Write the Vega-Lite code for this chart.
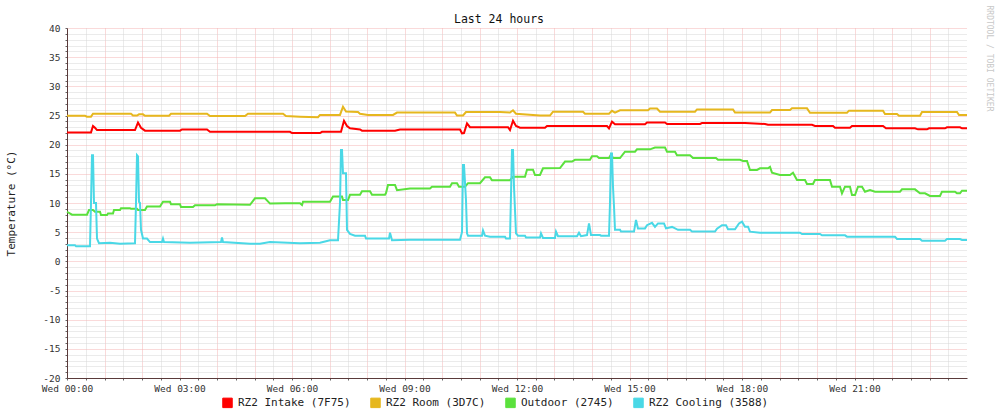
{
"$schema": "https://vega.github.io/schema/vega-lite/v6.json",
"width": 900, "height": 350,
"autosize": {"type": "none"},
"padding": {"left": 67, "top": 28, "right": 30, "bottom": 40},
"background": "white",
"config": {"view": {"stroke": null}, "font": "DejaVu Sans Mono"},
"title": {"text": "Last 24 hours", "font": "DejaVu Sans Mono", "fontSize": 11.5, "fontWeight": "normal", "color": "#111", "anchor": "middle", "frame": "group", "dx": -18, "dy": 24, "offset": 4},
"datasets": {
"intake": [{"m":0,"v":22.1},{"m":38.4,"v":22.1},{"m":41.6,"v":23.2},{"m":44.8,"v":22.9},{"m":48,"v":22.5},{"m":108.8,"v":22.5},{"m":113.6,"v":23.8},{"m":118.4,"v":22.9},{"m":124.8,"v":22.4},{"m":180.8,"v":22.4},{"m":184,"v":22.6},{"m":224,"v":22.6},{"m":228.8,"v":22.2},{"m":356.8,"v":22.2},{"m":360,"v":22.0},{"m":404.8,"v":22.0},{"m":408,"v":22.2},{"m":438.4,"v":22.2},{"m":443.2,"v":24.1},{"m":448,"v":23.2},{"m":452.8,"v":22.8},{"m":468.8,"v":22.6},{"m":472,"v":22.4},{"m":524.8,"v":22.4},{"m":532.8,"v":22.6},{"m":628.8,"v":22.6},{"m":632,"v":21.95},{"m":635.2,"v":22.0},{"m":640,"v":23.65},{"m":644.8,"v":23.0},{"m":705.6,"v":23.0},{"m":708.8,"v":22.5},{"m":713.6,"v":24.1},{"m":718.4,"v":23.2},{"m":724.8,"v":22.9},{"m":764.8,"v":22.9},{"m":768,"v":23.2},{"m":864,"v":23.2},{"m":867.2,"v":22.8},{"m":872,"v":23.95},{"m":876.8,"v":23.5},{"m":924.8,"v":23.5},{"m":928,"v":23.8},{"m":956.8,"v":23.8},{"m":960,"v":23.55},{"m":1012.8,"v":23.55},{"m":1016,"v":23.7},{"m":1084.8,"v":23.7},{"m":1116.8,"v":23.55},{"m":1121.6,"v":23.4},{"m":1192,"v":23.4},{"m":1196.8,"v":23.2},{"m":1225.6,"v":23.2},{"m":1228.8,"v":22.9},{"m":1252.8,"v":22.9},{"m":1256,"v":23.2},{"m":1305.6,"v":23.2},{"m":1310.4,"v":22.8},{"m":1356.8,"v":22.8},{"m":1361.6,"v":22.63},{"m":1376,"v":22.63},{"m":1379.2,"v":22.8},{"m":1404.8,"v":22.8},{"m":1408,"v":22.97},{"m":1428.8,"v":22.97},{"m":1432,"v":22.8},{"m":1440,"v":22.8}],
"room": [{"m":0,"v":24.95},{"m":28.8,"v":24.95},{"m":32,"v":24.8},{"m":38.4,"v":24.8},{"m":41.6,"v":25.3},{"m":102.4,"v":25.3},{"m":105.6,"v":25.0},{"m":112,"v":25.0},{"m":115.2,"v":25.2},{"m":121.6,"v":25.2},{"m":124.8,"v":24.95},{"m":163.2,"v":24.95},{"m":166.4,"v":25.3},{"m":224,"v":25.3},{"m":228.8,"v":24.9},{"m":284.8,"v":24.9},{"m":289.6,"v":25.3},{"m":345.6,"v":25.3},{"m":350.4,"v":24.9},{"m":372.8,"v":24.8},{"m":401.6,"v":24.7},{"m":404.8,"v":25.1},{"m":436.8,"v":25.1},{"m":441.6,"v":26.5},{"m":446.4,"v":25.7},{"m":465.6,"v":25.6},{"m":468.8,"v":25.3},{"m":481.6,"v":25.1},{"m":521.6,"v":25.1},{"m":528,"v":25.5},{"m":620.8,"v":25.5},{"m":624,"v":25.0},{"m":633.6,"v":25.0},{"m":638.4,"v":25.6},{"m":692.8,"v":25.6},{"m":708.8,"v":25.5},{"m":713.6,"v":25.9},{"m":718.4,"v":25.3},{"m":756.8,"v":25.0},{"m":772.8,"v":25.0},{"m":777.6,"v":25.65},{"m":825.6,"v":25.65},{"m":828.8,"v":25.3},{"m":867.2,"v":25.3},{"m":872,"v":25.8},{"m":876.8,"v":25.5},{"m":884.8,"v":25.9},{"m":929.6,"v":25.9},{"m":932.8,"v":26.2},{"m":944,"v":26.2},{"m":948.8,"v":25.65},{"m":1004.8,"v":25.65},{"m":1008,"v":26.05},{"m":1065.6,"v":26.05},{"m":1068.8,"v":25.5},{"m":1124.8,"v":25.5},{"m":1128,"v":25.94},{"m":1156.8,"v":25.94},{"m":1160,"v":26.23},{"m":1184,"v":26.23},{"m":1188.8,"v":25.48},{"m":1248,"v":25.48},{"m":1251.2,"v":25.83},{"m":1305.6,"v":25.83},{"m":1308.8,"v":25.26},{"m":1328,"v":25.26},{"m":1331.2,"v":24.97},{"m":1364.8,"v":24.97},{"m":1368,"v":25.6},{"m":1424,"v":25.6},{"m":1427.2,"v":25.09},{"m":1440,"v":25.09}],
"outdoor": [{"m":0,"v":8.5},{"m":8,"v":8.0},{"m":32,"v":8.0},{"m":35.2,"v":8.8},{"m":41.6,"v":8.8},{"m":44.8,"v":8.5},{"m":52.8,"v":8.5},{"m":54.4,"v":7.95},{"m":64,"v":7.95},{"m":65.6,"v":8.2},{"m":73.6,"v":8.2},{"m":75.2,"v":8.8},{"m":84.8,"v":8.8},{"m":86.4,"v":9.1},{"m":100.8,"v":9.1},{"m":102.4,"v":9.0},{"m":112,"v":9.0},{"m":113.6,"v":8.8},{"m":124.8,"v":8.8},{"m":128,"v":9.4},{"m":148.8,"v":9.4},{"m":153.6,"v":10.2},{"m":164.8,"v":10.2},{"m":166.4,"v":9.8},{"m":180.8,"v":9.8},{"m":182.4,"v":9.3},{"m":201.6,"v":9.3},{"m":204.8,"v":9.6},{"m":236.8,"v":9.6},{"m":240,"v":9.8},{"m":292.8,"v":9.7},{"m":300.8,"v":10.8},{"m":316.8,"v":10.8},{"m":324.8,"v":9.9},{"m":348.8,"v":9.95},{"m":372.8,"v":9.95},{"m":376,"v":9.66},{"m":377.6,"v":10.2},{"m":420.8,"v":10.2},{"m":425.6,"v":11.1},{"m":440,"v":11.1},{"m":441.6,"v":10.5},{"m":449.6,"v":10.5},{"m":452.8,"v":11.4},{"m":468.8,"v":11.4},{"m":472,"v":12.0},{"m":484.8,"v":12.0},{"m":488,"v":11.4},{"m":508.8,"v":11.4},{"m":510.4,"v":11.7},{"m":513.6,"v":13.1},{"m":524.8,"v":13.1},{"m":528,"v":12.2},{"m":548.8,"v":12.5},{"m":580.8,"v":12.5},{"m":584,"v":12.8},{"m":612.8,"v":12.8},{"m":616,"v":13.4},{"m":624,"v":13.4},{"m":627.2,"v":12.8},{"m":636.8,"v":12.8},{"m":641.6,"v":13.4},{"m":660.8,"v":13.4},{"m":668.8,"v":14.4},{"m":676.8,"v":14.4},{"m":680,"v":13.9},{"m":708.8,"v":13.9},{"m":713.6,"v":14.5},{"m":732.8,"v":14.5},{"m":736,"v":15.7},{"m":745.6,"v":15.7},{"m":748.8,"v":14.8},{"m":756.8,"v":14.8},{"m":761.6,"v":15.95},{"m":788.8,"v":16.0},{"m":796.8,"v":17.1},{"m":808,"v":17.1},{"m":812.8,"v":17.4},{"m":836.8,"v":17.4},{"m":840,"v":18.0},{"m":848,"v":18.0},{"m":851.2,"v":17.7},{"m":867.2,"v":17.7},{"m":870.4,"v":18.3},{"m":873.6,"v":17.7},{"m":884.8,"v":17.7},{"m":892.8,"v":18.8},{"m":908.8,"v":18.8},{"m":912,"v":19.2},{"m":932.8,"v":19.2},{"m":940.8,"v":19.5},{"m":956.8,"v":19.5},{"m":960,"v":18.8},{"m":972.8,"v":18.8},{"m":976,"v":18.2},{"m":996.8,"v":18.2},{"m":1001.6,"v":17.7},{"m":1038.4,"v":17.7},{"m":1041.6,"v":17.4},{"m":1076.8,"v":17.4},{"m":1081.6,"v":17.2},{"m":1088,"v":17.2},{"m":1092.8,"v":15.66},{"m":1104,"v":15.66},{"m":1108.8,"v":15.94},{"m":1121.6,"v":15.94},{"m":1124.8,"v":16.2},{"m":1128,"v":15.2},{"m":1140.8,"v":14.8},{"m":1156.8,"v":14.8},{"m":1161.6,"v":15.2},{"m":1168,"v":13.94},{"m":1180.8,"v":13.94},{"m":1184,"v":13.26},{"m":1193.6,"v":13.26},{"m":1196.8,"v":13.94},{"m":1220.8,"v":13.94},{"m":1224,"v":12.8},{"m":1236.8,"v":12.8},{"m":1240,"v":11.66},{"m":1244.8,"v":12.8},{"m":1252.8,"v":12.8},{"m":1256,"v":11.37},{"m":1260.8,"v":11.37},{"m":1265.6,"v":12.8},{"m":1272,"v":12.8},{"m":1276.8,"v":11.94},{"m":1284.8,"v":12.23},{"m":1292.8,"v":11.94},{"m":1332.8,"v":11.94},{"m":1336,"v":12.34},{"m":1356.8,"v":12.34},{"m":1364.8,"v":11.66},{"m":1372.8,"v":11.66},{"m":1380.8,"v":11.2},{"m":1396.8,"v":11.2},{"m":1400,"v":11.94},{"m":1420.8,"v":11.94},{"m":1424,"v":11.66},{"m":1428.8,"v":11.66},{"m":1432,"v":12.1},{"m":1440,"v":12.1}],
"cooling": [{"m":0,"v":2.74},{"m":12.8,"v":2.74},{"m":14.4,"v":2.6},{"m":36.8,"v":2.6},{"m":38.4,"v":10.0},{"m":40,"v":18.2},{"m":41.6,"v":18.2},{"m":43.2,"v":10.0},{"m":46.4,"v":10.0},{"m":48,"v":3.9},{"m":51.2,"v":3.1},{"m":68.8,"v":3.2},{"m":84.8,"v":3.0},{"m":108.8,"v":3.1},{"m":110.4,"v":10.0},{"m":112,"v":18.2},{"m":113.6,"v":18.0},{"m":115.2,"v":10.2},{"m":116.8,"v":10.0},{"m":118.4,"v":5.4},{"m":121.6,"v":3.9},{"m":128,"v":3.9},{"m":132.8,"v":3.3},{"m":152,"v":3.3},{"m":153.6,"v":3.9},{"m":155.2,"v":3.3},{"m":196.8,"v":3.2},{"m":246.4,"v":3.3},{"m":248,"v":4.1},{"m":249.6,"v":3.3},{"m":292.8,"v":3.0},{"m":308.8,"v":3.0},{"m":324.8,"v":3.3},{"m":372.8,"v":3.1},{"m":404.8,"v":3.2},{"m":420.8,"v":3.6},{"m":433.6,"v":3.6},{"m":436.8,"v":10.0},{"m":438.4,"v":19.1},{"m":440,"v":19.1},{"m":441.6,"v":15.1},{"m":446.4,"v":15.1},{"m":448,"v":5.4},{"m":452.8,"v":4.7},{"m":460.8,"v":4.4},{"m":476.8,"v":4.4},{"m":478.4,"v":3.9},{"m":515.2,"v":3.9},{"m":516.8,"v":4.9},{"m":520,"v":3.6},{"m":548.8,"v":3.7},{"m":628.8,"v":3.7},{"m":632,"v":5.0},{"m":633.6,"v":16.5},{"m":635.2,"v":16.5},{"m":638.4,"v":10.5},{"m":640,"v":4.8},{"m":641.6,"v":4.4},{"m":664,"v":4.4},{"m":665.6,"v":5.3},{"m":668.8,"v":4.4},{"m":676.8,"v":4.2},{"m":700.8,"v":4.2},{"m":702.4,"v":3.9},{"m":708.8,"v":3.9},{"m":710.4,"v":11.4},{"m":712,"v":19.1},{"m":713.6,"v":19.1},{"m":715.2,"v":12.8},{"m":718.4,"v":4.8},{"m":721.6,"v":4.4},{"m":732.8,"v":4.4},{"m":734.4,"v":4.1},{"m":756.8,"v":4.1},{"m":758.4,"v":4.8},{"m":761.6,"v":4.0},{"m":780.8,"v":4.0},{"m":782.4,"v":5.1},{"m":785.6,"v":4.3},{"m":816,"v":4.3},{"m":819.2,"v":4.9},{"m":822.4,"v":4.3},{"m":832,"v":4.5},{"m":835.2,"v":6.5},{"m":838.4,"v":4.5},{"m":852.8,"v":4.5},{"m":854.4,"v":4.4},{"m":867.2,"v":4.4},{"m":868.8,"v":10.0},{"m":870.4,"v":18.5},{"m":872,"v":18.5},{"m":873.6,"v":12.8},{"m":875.2,"v":9.4},{"m":876.8,"v":5.4},{"m":884.8,"v":5.4},{"m":886.4,"v":5.1},{"m":907.2,"v":5.1},{"m":910.4,"v":7.1},{"m":913.6,"v":5.65},{"m":924.8,"v":5.65},{"m":928,"v":6.2},{"m":936,"v":6.6},{"m":940.8,"v":5.9},{"m":945.6,"v":6.5},{"m":955.2,"v":6.5},{"m":958.4,"v":5.65},{"m":968,"v":5.9},{"m":977.6,"v":5.4},{"m":996.8,"v":5.4},{"m":1000,"v":5.1},{"m":1036.8,"v":5.1},{"m":1040,"v":5.6},{"m":1048,"v":6.2},{"m":1054.4,"v":6.2},{"m":1057.6,"v":5.5},{"m":1068.8,"v":5.5},{"m":1075.2,"v":6.5},{"m":1080,"v":6.8},{"m":1084.8,"v":5.94},{"m":1089.6,"v":5.94},{"m":1092.8,"v":5.09},{"m":1108.8,"v":4.91},{"m":1172.8,"v":4.91},{"m":1176,"v":4.69},{"m":1204.8,"v":4.69},{"m":1208,"v":4.46},{"m":1244.8,"v":4.46},{"m":1248,"v":4.23},{"m":1324.8,"v":4.23},{"m":1328,"v":3.83},{"m":1364.8,"v":3.83},{"m":1368,"v":3.54},{"m":1404.8,"v":3.54},{"m":1408,"v":3.83},{"m":1428.8,"v":3.83},{"m":1432,"v":3.66},{"m":1440,"v":3.66}]
},
"encoding": {
  "x": {"field": "m", "type": "quantitative",
    "scale": {"domain": [0, 1440], "nice": false, "zero": false},
    "axis": {"title": null,
      "values": [0,30,60,90,120,150,180,210,240,270,300,330,360,390,420,450,480,510,540,570,600,630,660,690,720,750,780,810,840,870,900,930,960,990,1020,1050,1080,1110,1140,1170,1200,1230,1260,1290,1320,1350,1380,1410],
      "labelExpr": "datum.value % 180 === 0 ? 'Wed ' + (datum.value < 600 ? '0' : '') + (datum.value / 60) + ':00' : ''",
      "gridColor": {"condition": {"test": "datum.value % 60 === 0", "value": "#f4b4b4"}, "value": "#d6d6d6"},
      "gridDash": [1, 1], "gridWidth": 1, "gridOpacity": 1,
      "tickSize": 2, "tickColor": "#666", "labelPadding": 3,
      "labelFont": "DejaVu Sans Mono", "labelFontSize": 9.5, "labelColor": "#333",
      "labelOverlap": false, "labelBound": false, "labelFlush": false,
      "domainColor": "#5a3a3a", "domainWidth": 1}
  }
},
"layer": [
  {
    "encoding": {
      "y": {"field": "v", "type": "quantitative",
        "scale": {"domain": [-20, 40], "nice": false, "zero": false},
        "axis": {
          "values": [-20,-19,-18,-17,-16,-15,-14,-13,-12,-11,-10,-9,-8,-7,-6,-5,-4,-3,-2,-1,0,1,2,3,4,5,6,7,8,9,10,11,12,13,14,15,16,17,18,19,20,21,22,23,24,25,26,27,28,29,30,31,32,33,34,35,36,37,38,39,40],
          "labelExpr": "datum.value % 5 === 0 ? '' + datum.value : ''",
          "gridColor": {"condition": {"test": "datum.value % 5 === 0", "value": "#f4b4b4"}, "value": "#d6d6d6"},
          "gridDash": [1, 1], "gridWidth": 1, "gridOpacity": 1,
          "tickSize": 2, "tickColor": "#666", "labelPadding": 5,
          "labelFont": "DejaVu Sans Mono", "labelFontSize": 9.5, "labelColor": "#333",
          "labelOverlap": false, "labelBound": false, "labelFlush": false,
          "domainColor": "#5a3a3a", "domainWidth": 1,
          "title": "Temperature (°C)", "titleFont": "DejaVu Sans Mono", "titleFontSize": 11, "titleFontWeight": "normal", "titleColor": "#222",
          "titleX": -56, "titleY": 175, "titleAngle": 270, "titleAlign": "center", "titleBaseline": "middle"
        }
      }
    },
    "layer": [
      {"data": {"name": "intake"}, "mark": {"type": "line", "strokeWidth": 2},
       "encoding": {"color": {"datum": "RZ2 Intake (7F75)", "type": "nominal",
         "scale": {"domain": ["RZ2 Intake (7F75)", "RZ2 Room (3D7C)", "Outdoor (2745)", "RZ2 Cooling (3588)"], "range": ["#ff0000", "#e6b71e", "#5be13d", "#4ad8e6"]},
         "legend": {"orient": "none", "legendX": 155, "legendY": 369, "direction": "horizontal", "title": null,
           "symbolType": "square", "symbolSize": 90, "symbolStrokeWidth": 1, "symbolStrokeColor": "black",
           "labelFont": "DejaVu Sans Mono", "labelFontSize": 11, "labelColor": "#222", "columnPadding": 17, "labelOffset": 5,
           "encode": {"symbols": {"update": {"fill": {"scale": "color", "field": "value"}, "stroke": {"value": "black"}, "strokeWidth": {"value": 1}, "opacity": {"value": 1}}}}}}}},
      {"data": {"name": "room"}, "mark": {"type": "line", "strokeWidth": 2},
       "encoding": {"color": {"datum": "RZ2 Room (3D7C)", "type": "nominal"}}},
      {"data": {"name": "outdoor"}, "mark": {"type": "line", "strokeWidth": 2},
       "encoding": {"color": {"datum": "Outdoor (2745)", "type": "nominal"}}},
      {"data": {"name": "cooling"}, "mark": {"type": "line", "strokeWidth": 2},
       "encoding": {"color": {"datum": "RZ2 Cooling (3588)", "type": "nominal"}}}
    ]
  },
  {
    "data": {"name": "intake"},
    "mark": {"type": "line", "opacity": 0},
    "encoding": {
      "y": {"field": "v", "type": "quantitative",
        "scale": {"domain": [-20, 40], "nice": false, "zero": false},
        "axis": {"orient": "right", "title": "RRDTOOL / TOBI OETIKER", "labels": false, "ticks": false, "domain": false, "grid": false,
          "titleX": 21, "titleY": -23, "titleAngle": 90, "titleAlign": "left", "titleBaseline": "middle",
          "titleFont": "DejaVu Sans Mono", "titleFontSize": 8, "titleFontWeight": "normal", "titleColor": "#c8c8c8"}
      }
    }
  }
],
"resolve": {"scale": {"y": "independent"}, "axis": {"y": "independent"}}
}
